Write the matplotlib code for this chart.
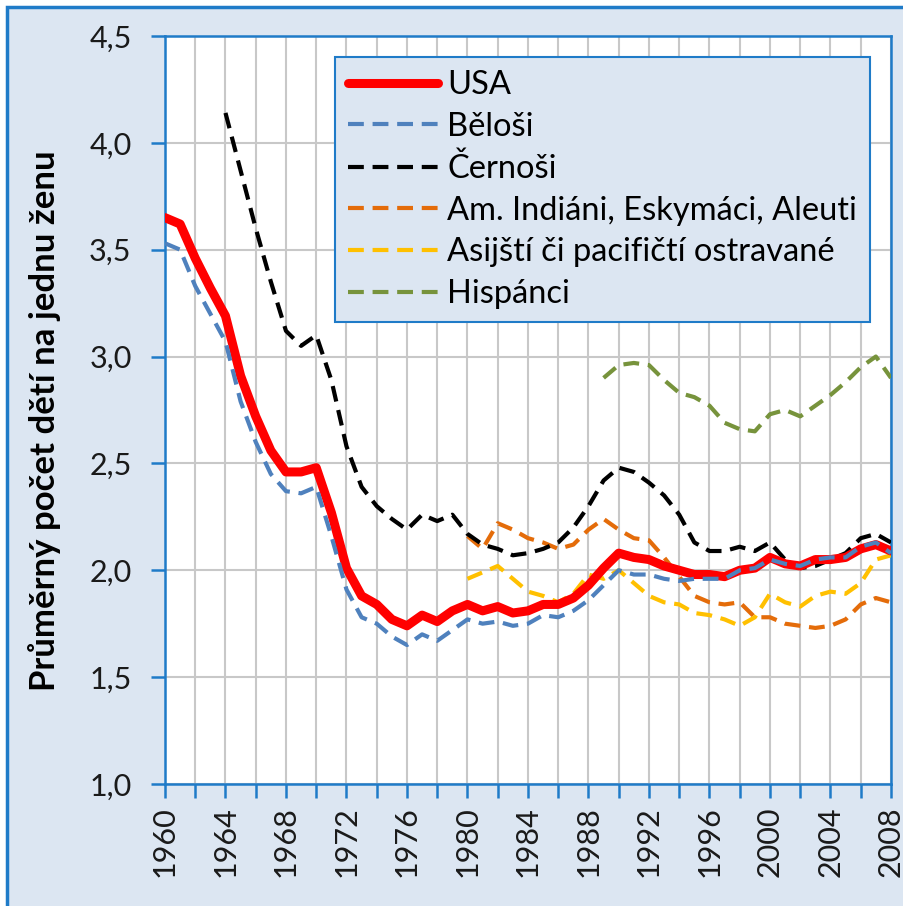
import matplotlib
matplotlib.use("Agg")
import matplotlib.pyplot as plt
from matplotlib.ticker import FuncFormatter, MultipleLocator
from matplotlib.patches import Rectangle

plt.rcParams['font.family'] = ['Lato', 'DejaVu Sans']

# Úhrnná plodnost v USA podle rasy
years_usa = list(range(1960, 2009))
usa = [3.65, 3.62, 3.46, 3.32, 3.19, 2.91, 2.72, 2.56, 2.46, 2.46,
       2.48, 2.27, 2.01, 1.88, 1.84, 1.77, 1.74, 1.79, 1.76, 1.81,
       1.84, 1.81, 1.83, 1.80, 1.81, 1.84, 1.84, 1.87, 1.93, 2.01,
       2.08, 2.06, 2.05, 2.02, 2.00, 1.98, 1.98, 1.97, 2.00, 2.01,
       2.06, 2.03, 2.02, 2.05, 2.05, 2.06, 2.10, 2.12, 2.09]
white = [3.53, 3.50, 3.33, 3.20, 3.07, 2.79, 2.60, 2.45, 2.37, 2.36,
         2.39, 2.16, 1.91, 1.78, 1.75, 1.69, 1.65, 1.70, 1.67, 1.72,
         1.77, 1.75, 1.76, 1.74, 1.75, 1.79, 1.78, 1.81, 1.86, 1.93,
         2.00, 1.98, 1.98, 1.96, 1.95, 1.96, 1.96, 1.96, 2.00, 2.01,
         2.05, 2.03, 2.02, 2.05, 2.06, 2.06, 2.11, 2.13, 2.08]

years_black = list(range(1964, 2009))
black = [4.14, 3.87, 3.60, 3.35, 3.12, 3.05, 3.10, 2.89, 2.58, 2.39,
         2.30, 2.24, 2.19, 2.26, 2.23, 2.26, 2.17, 2.12, 2.10, 2.07,
         2.08, 2.10, 2.13, 2.20, 2.30, 2.42, 2.48, 2.46, 2.41, 2.35,
         2.26, 2.13, 2.09, 2.09, 2.11, 2.09, 2.13, 2.05, 2.01, 2.02,
         2.05, 2.08, 2.15, 2.17, 2.13]

years_80 = list(range(1980, 2009))
indian = [2.16, 2.10, 2.22, 2.19, 2.15, 2.13, 2.10, 2.12, 2.19, 2.24,
          2.19, 2.15, 2.14, 2.06, 1.97, 1.88, 1.85, 1.84, 1.85, 1.78,
          1.78, 1.75, 1.74, 1.73, 1.74, 1.77, 1.84, 1.87, 1.85]
asian = [1.96, 1.99, 2.02, 1.96, 1.90, 1.88, 1.85, 1.89, 1.98, 1.96,
         2.00, 1.94, 1.88, 1.85, 1.84, 1.80, 1.79, 1.77, 1.74, 1.78,
         1.89, 1.85, 1.83, 1.88, 1.90, 1.89, 1.94, 2.05, 2.07]

years_hisp = list(range(1989, 2009))
hispanic = [2.90, 2.96, 2.97, 2.96, 2.89, 2.83, 2.81, 2.77, 2.69, 2.66,
            2.65, 2.73, 2.75, 2.72, 2.77, 2.82, 2.88, 2.95, 3.00, 2.90]

bg = '#dce6f2'
blue = '#1f7bc8'

fig = plt.figure(figsize=(9.04, 9.06), dpi=100, facecolor='white')
fig.patches.append(Rectangle((0.008, -0.02), 1.0, 1.012, transform=fig.transFigure,
                             facecolor=bg, edgecolor=blue, linewidth=2.5, zorder=-10))
ax = fig.add_axes([0.1825, 0.1347, 0.8031, 0.8256])
ax.set_facecolor('white')

dash = (0, (3.8, 2.1))
ax.plot(years_usa, usa, '-', color='#ff0000', lw=6.5, solid_capstyle='round', label='USA', zorder=5)
ax.plot(years_usa, white, linestyle=dash, color='#4f81bd', lw=3.0, label='Běloši', zorder=6)
ax.plot(years_black, black, linestyle=dash, color='black', lw=3.0, label='Černoši', zorder=4)
ax.plot(years_80, indian, linestyle=dash, color='#e46c0a', lw=3.0, label='Am. Indiáni, Eskymáci, Aleuti', zorder=3)
ax.plot(years_80, asian, linestyle=dash, color='#ffc000', lw=3.0, label='Asijští či pacifičtí ostravané', zorder=3)
ax.plot(years_hisp, hispanic, linestyle=dash, color='#77933c', lw=3.0, label='Hispánci', zorder=3)

ax.set_xlim(1960, 2008)
ax.set_ylim(1.0, 4.5)
ax.xaxis.set_major_locator(MultipleLocator(4))
ax.xaxis.set_minor_locator(MultipleLocator(2))
ax.yaxis.set_major_locator(MultipleLocator(0.5))
ax.yaxis.set_major_formatter(FuncFormatter(lambda v, p: ('%.1f' % v).replace('.', ',')))
ax.grid(True, which='both', axis='x', color='#c8c8c8', lw=1.5)
ax.grid(True, which='major', axis='y', color='#c8c8c8', lw=1.5)
ax.set_axisbelow(True)

for s in ax.spines.values():
    s.set_color(blue)
    s.set_linewidth(1.8)
ax.tick_params(axis='both', which='both', direction='out', color=blue, width=1.8, length=10,
               labelcolor='#1a1a1a')
ax.tick_params(axis='x', rotation=90, pad=6, labelsize=22)
ax.tick_params(axis='y', pad=14, labelsize=22)

ax.set_ylabel('Průměrný počet dětí na jednu ženu', fontsize=25, fontweight='bold')
ax.yaxis.set_label_coords(-0.143, 0.485)

leg = ax.legend(loc='upper left', bbox_to_anchor=(0.234, 0.972), fontsize=23.5, handlelength=2.75,
                handletextpad=0.3, labelspacing=0.36, borderpad=0.4, borderaxespad=0,
                fancybox=False, framealpha=1)
leg.get_frame().set_facecolor(bg)
leg.get_frame().set_edgecolor(blue)
leg.get_frame().set_linewidth(1.5)

fig.savefig('out.png', dpi=100, facecolor=fig.get_facecolor())
